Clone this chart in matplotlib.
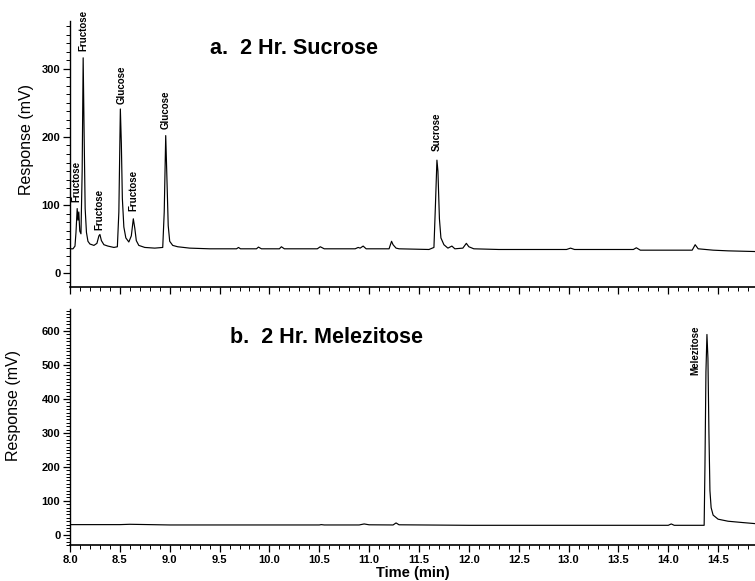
import matplotlib
matplotlib.use("Agg")
import matplotlib.pyplot as plt
from matplotlib.ticker import MultipleLocator, AutoMinorLocator

plt.rcParams['font.family'] = ['Liberation Sans', 'DejaVu Sans']

# Chromatogram a: 2 Hr. Sucrose (time in min, response in mV)
sucrose_time = [8.00, 8.03, 8.05, 8.06, 8.072, 8.08, 8.088, 8.098, 8.11, 8.122,
                8.132, 8.142, 8.152, 8.165, 8.18, 8.20, 8.24, 8.27, 8.29, 8.30,
                8.315, 8.34, 8.38, 8.44, 8.475, 8.49, 8.505, 8.515, 8.525, 8.54,
                8.56, 8.59, 8.615, 8.635, 8.65, 8.665, 8.69, 8.75, 8.85, 8.93,
                8.945, 8.96, 8.97, 8.985, 9.00, 9.03, 9.08, 9.20, 9.40, 9.60,
                9.67, 9.69, 9.71, 9.87, 9.89, 9.92, 10.10, 10.12, 10.15, 10.48,
                10.51, 10.55, 10.86, 10.89, 10.91, 10.94, 10.97, 11.20, 11.225, 11.24,
                11.27, 11.30, 11.60, 11.65, 11.665, 11.68, 11.69, 11.705, 11.72, 11.75,
                11.79, 11.83, 11.86, 11.94, 11.975, 12.00, 12.05, 12.30, 12.98, 13.02,
                13.06, 13.65, 13.68, 13.72, 14.24, 14.27, 14.30, 14.45, 14.60, 14.87]
sucrose_resp = [36, 36, 40, 60, 95, 78, 90, 62, 58, 150,
                316, 200, 95, 60, 47, 43, 41, 44, 55, 57,
                48, 42, 40, 38, 39, 90, 241, 190, 110, 68,
                52, 46, 55, 80, 66, 48, 41, 38, 37, 38,
                90, 202, 150, 70, 47, 41, 39, 37, 36, 36,
                36, 38, 36, 36, 38.5, 36, 36, 39, 36, 36,
                39, 36, 36, 38, 37, 40, 36, 36, 47, 42,
                37, 36, 35, 38, 100, 166, 150, 80, 52, 42,
                37, 40, 36, 37, 44, 39, 36, 35, 35, 37,
                35, 35, 37.5, 34, 34, 42, 36, 34, 33, 32]

# Chromatogram b: 2 Hr. Melezitose
melez_time = [8.00, 8.50, 8.60, 9.00, 10.50, 10.52, 10.55, 10.90, 10.95, 11.00,
              11.24, 11.27, 11.30, 12.00, 14.00, 14.03, 14.06, 14.36, 14.368, 14.378,
              14.388, 14.398, 14.408, 14.418, 14.43, 14.45, 14.50, 14.60, 14.75, 14.87]
melez_resp = [30, 30, 31, 29, 29, 30, 29, 29, 32, 29.5,
              29, 35, 29.5, 28, 28, 32, 28, 28, 200, 480,
              590, 520, 300, 130, 80, 58, 46, 40, 36, 33]

# Peak labels
sucrose_names = ['Fructose', 'Fructose', 'Fructose', 'Glucose', 'Fructose', 'Glucose', 'Sucrose']
sucrose_name_x = [8.065, 8.132, 8.295, 8.515, 8.635, 8.955, 11.68]
sucrose_name_y = [105, 326, 63, 249, 92, 212, 180]

fig = plt.figure(figsize=(7.55, 5.81), dpi=100)
ax1 = fig.add_axes([70 / 755, 1 - 287 / 581, 685 / 755, 266 / 581])
ax2 = fig.add_axes([70 / 755, 1 - 545 / 581, 685 / 755, 236 / 581])

ax1.plot(sucrose_time, sucrose_resp, color='black', lw=0.85)
ax2.plot(melez_time, melez_resp, color='black', lw=0.85)

ax1.set_ylim(-20, 370)
ax2.set_ylim(-30, 665)
ax1.yaxis.set_major_locator(MultipleLocator(100))
ax1.yaxis.set_minor_locator(AutoMinorLocator(8))
ax2.yaxis.set_major_locator(MultipleLocator(100))
ax2.yaxis.set_minor_locator(AutoMinorLocator(10))

for ax in (ax1, ax2):
    ax.set_xlim(8.0, 14.87)
    ax.xaxis.set_major_locator(MultipleLocator(0.5))
    ax.xaxis.set_minor_locator(AutoMinorLocator(5))
    ax.xaxis.set_major_formatter(plt.FormatStrFormatter('%.1f'))
    ax.spines['top'].set_visible(False)
    ax.spines['right'].set_visible(False)
    ax.spines['left'].set_linewidth(1.0)
    ax.spines['bottom'].set_linewidth(1.2)
    ax.tick_params(which='major', length=5, width=0.9)
    ax.tick_params(which='minor', length=3, width=0.7)
    ax.tick_params(labelsize=8, pad=2)
    for lab in ax.get_xticklabels() + ax.get_yticklabels():
        lab.set_fontweight('bold')
    ax.set_ylabel('Response (mV)', fontsize=11.5)

ax1.tick_params(axis='x', labelbottom=False)

ax1.yaxis.set_label_coords(-0.0526, 0.556)
ax2.yaxis.set_label_coords(-0.072, 0.59)
ax2.set_xlabel('Time (min)', fontsize=10.5, fontweight='bold', labelpad=1)

for name, x, y in zip(sucrose_names, sucrose_name_x, sucrose_name_y):
    ax1.text(x, y, name, rotation=90, ha='center', va='bottom', fontsize=7, fontweight='bold')
ax2.text(14.27, 615, 'Melezitose', rotation=90, ha='center', va='top', fontsize=7, fontweight='bold')

ax1.text(9.40, 330, 'a.  2 Hr. Sucrose', ha='left', va='center', fontsize=15.5, fontweight='bold')
ax2.text(9.60, 582, 'b.  2 Hr. Melezitose', ha='left', va='center', fontsize=15.5, fontweight='bold')

fig.savefig('out.png', dpi=100)
